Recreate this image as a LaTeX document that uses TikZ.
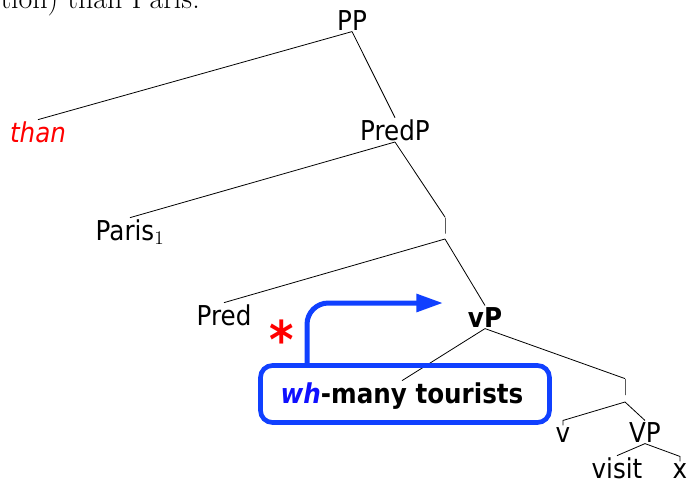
\documentclass[tikz,border=0pt]{standalone}
\usepackage{fontspec}
\setsansfont{DejaVu Sans}[FakeStretch=0.9]
\usetikzlibrary{arrows.meta}
\definecolor{whblue}{HTML}{1040FF}
\definecolor{whtext}{HTML}{1010FF}

\begin{document}
\begin{tikzpicture}[x = 0.75pt, y = -0.75pt]

\tikzset{
cat/.style = {font = \sffamily\fontsize{20.5}{24}\selectfont, inner sep = 1pt, anchor = base},
catbold/.style = {cat, font = \sffamily\bfseries\fontsize{20.5}{24}\selectfont},
bar/.style = {draw, line width = 0.6pt, inner sep = 0pt, minimum width = 0pt, minimum height = 12pt},
branch/.style = {line width = 0.6pt},
whbox/.style = {draw = whblue, line width = 3.5pt, rounded corners = 9pt, minimum width = 216.75pt, minimum height = 42.75pt},
movement/.style = {-{Triangle[length = 20pt, width = 13pt]}, draw = whblue, line width = 3.75pt, rounded corners = 16pt},
badmark/.style = {text = red, font = \sffamily\bfseries\fontsize{39}{41}\selectfont, inner sep = 0pt, anchor = base},
	}

\useasboundingbox (0, 0) rectangle (690, 482);

% Sentence
\node at (200, 8) [anchor = base east, inner sep = 0pt, font = \rmfamily\fontsize{22.5}{27}\selectfont] (sentence) {tion) than Paris.};

% Categories
\node at (352, 30) [cat] (PP) {PP};
\node at (38, 142) [cat, text = red, font = \sffamily\itshape\fontsize{20.5}{24}\selectfont] (than) {than};
\node at (395, 140) [cat] (PredP) {PredP};
\node at (130, 240) [cat] (Paris) {Paris$_1$};
\node at (445, 225.5) [bar] (predbar) {};
\coordinate (predbarv) at (445, 239);
\node at (224, 325) [cat] (Pred) {Pred};
\node at (485, 327) [catbold] (vP) {vP};
\node at (402, 403) [catbold] (wh) {\textcolor{whtext}{\textit{wh}}-many tourists};
\node at (625, 387) [bar] (vbar) {};
\coordinate (vbarv) at (625, 402);
\node at (563, 442) [cat] (v) {v};
\node at (645, 442) [cat] (VP) {VP};
\node at (617, 478) [cat] (visit) {visit};
\node at (680, 478) [cat] (x) {x};

% Branches
\path [branch] (PP.south) edge (than.north) edge (PredP.north);
\path [branch] (PredP.south) edge (Paris.north) edge (predbar.north);
\path [branch] (predbarv) edge (Pred.north) edge (vP.north);
\path [branch] (vP.south) edge (wh.north) edge (vbar.north);
\draw [branch] (vbarv) -- ([yshift = 3.75pt]v.north) -- (v.north);
\draw [branch] (vbarv) -- (VP.north);
\draw [branch] (VP.south) -- (visit.north);
\draw [branch] (VP.south) -- ([yshift = 3.75pt]x.north) -- (x.north);

% Movement
\node at (405, 394) [whbox] (whbox) {};
\coordinate (mvtip) at (443, 303);
\draw [movement] ([xshift = -73.5pt]whbox.north) |- (mvtip);
\node at (281.5, 358) [badmark] (badmove) {*};

\end{tikzpicture}
\end{document}
